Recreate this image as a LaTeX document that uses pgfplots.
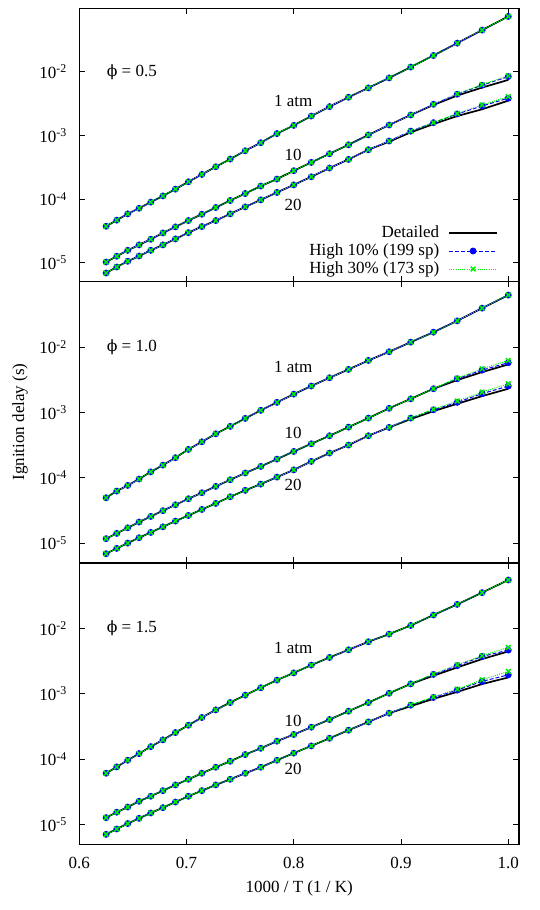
\documentclass[border=0pt]{standalone}
\usepackage{fontspec}
\setmainfont{Liberation Serif}
\newfontfamily\phifont{DejaVu Serif}
\usepackage{pgfplots}
\usepackage{pgfplotstable}
\pgfplotsset{compat=1.18}
\definecolor{hblue}{HTML}{0000FF}
\definecolor{hgreen}{HTML}{00EE00}
\newcommand\fs{\fontsize{8.5}{10}\selectfont}
\newcommand\phisym{{\phifont\fontsize{7.8}{9}\selectfont ϕ}}

% columns: x, 1 atm (all mechanisms), 10 atm (detailed, 10%, 30%), 20 atm (detailed, 10%, 30%)
\pgfplotstableread{
x       p1      d10     b10     g10     d20     b20     g20
0.625   3.73e-5 1.02e-5 1.02e-5 1.02e-5 6.87e-6 6.87e-6 6.87e-6
0.63492 4.65e-5 1.26e-5 1.26e-5 1.26e-5 8.53e-6 8.53e-6 8.53e-6
0.64516 5.85e-5 1.56e-5 1.56e-5 1.56e-5 1.05e-5 1.05e-5 1.05e-5
0.65574 7.16e-5 1.90e-5 1.90e-5 1.90e-5 1.27e-5 1.27e-5 1.27e-5
0.66667 8.93e-5 2.33e-5 2.33e-5 2.33e-5 1.56e-5 1.56e-5 1.56e-5
0.67797 1.12e-4 2.93e-5 2.93e-5 2.93e-5 1.90e-5 1.90e-5 1.90e-5
0.68966 1.43e-4 3.65e-5 3.65e-5 3.65e-5 2.36e-5 2.36e-5 2.36e-5
0.70175 1.87e-4 4.59e-5 4.59e-5 4.59e-5 2.96e-5 2.96e-5 2.96e-5
0.71429 2.44e-4 5.77e-5 5.77e-5 5.77e-5 3.69e-5 3.69e-5 3.69e-5
0.72727 3.22e-4 7.36e-5 7.36e-5 7.36e-5 4.59e-5 4.59e-5 4.59e-5
0.74074 4.25e-4 9.48e-5 9.48e-5 9.48e-5 5.85e-5 5.85e-5 5.85e-5
0.75472 5.75e-4 1.22e-4 1.22e-4 1.22e-4 7.53e-5 7.53e-5 7.53e-5
0.76923 7.69e-4 1.60e-4 1.60e-4 1.60e-4 9.71e-5 9.71e-5 9.71e-5
0.78431 1.07e-3 2.06e-4 2.06e-4 2.06e-4 1.27e-4 1.27e-4 1.27e-4
0.8     1.44e-3 2.79e-4 2.79e-4 2.79e-4 1.67e-4 1.67e-4 1.67e-4
0.81633 2.02e-3 3.77e-4 3.77e-4 3.77e-4 2.24e-4 2.24e-4 2.24e-4
0.83333 2.84e-3 5.16e-4 5.16e-4 5.16e-4 3.07e-4 3.07e-4 3.07e-4
0.85106 3.99e-3 7.14e-4 7.14e-4 7.14e-4 4.20e-4 4.20e-4 4.20e-4
0.86957 5.60e-3 1.02e-3 1.02e-3 1.02e-3 5.97e-4 5.97e-4 5.97e-4
0.88889 8.04e-3 1.46e-3 1.46e-3 1.46e-3 7.98e-4 8.17e-4 8.17e-4
0.90909 1.19e-2 2.10e-3 2.10e-3 2.10e-3 1.12e-3 1.17e-3 1.17e-3
0.93023 1.81e-2 3.02e-3 3.09e-3 3.09e-3 1.51e-3 1.59e-3 1.59e-3
0.95238 2.83e-2 4.24e-3 4.45e-3 4.52e-3 2.02e-3 2.18e-3 2.21e-3
0.97561 4.54e-2 5.66e-3 6.17e-3 6.31e-3 2.58e-3 2.91e-3 3.02e-3
1.0     7.45e-2 7.48e-3 8.43e-3 8.65e-3 3.53e-3 3.85e-3 4.08e-3
}\phiA

\pgfplotstableread{
x       p1      d10     b10     g10     d20     b20     g20
0.625   4.98e-5 1.18e-5 1.18e-5 1.18e-5 6.95e-6 6.95e-6 6.95e-6
0.63492 6.30e-5 1.42e-5 1.42e-5 1.42e-5 8.38e-6 8.38e-6 8.38e-6
0.64516 7.69e-5 1.73e-5 1.73e-5 1.73e-5 1.01e-5 1.01e-5 1.01e-5
0.65574 9.62e-5 2.12e-5 2.12e-5 2.12e-5 1.22e-5 1.22e-5 1.22e-5
0.66667 1.24e-4 2.58e-5 2.58e-5 2.58e-5 1.47e-5 1.47e-5 1.47e-5
0.67797 1.57e-4 3.16e-5 3.16e-5 3.16e-5 1.79e-5 1.79e-5 1.79e-5
0.68966 2.04e-4 3.89e-5 3.89e-5 3.89e-5 2.19e-5 2.19e-5 2.19e-5
0.70175 2.73e-4 4.81e-5 4.81e-5 4.81e-5 2.67e-5 2.67e-5 2.67e-5
0.71429 3.57e-4 5.94e-5 5.94e-5 5.94e-5 3.30e-5 3.30e-5 3.30e-5
0.72727 4.73e-4 7.43e-5 7.43e-5 7.43e-5 4.08e-5 4.08e-5 4.08e-5
0.74074 6.14e-4 9.38e-5 9.38e-5 9.38e-5 5.16e-5 5.16e-5 5.16e-5
0.75472 8.13e-4 1.19e-4 1.19e-4 1.19e-4 6.46e-5 6.46e-5 6.46e-5
0.76923 1.08e-3 1.50e-4 1.50e-4 1.50e-4 8.05e-5 8.05e-5 8.05e-5
0.78431 1.43e-3 1.94e-4 1.94e-4 1.94e-4 1.03e-4 1.03e-4 1.03e-4
0.8     1.91e-3 2.54e-4 2.54e-4 2.54e-4 1.33e-4 1.33e-4 1.33e-4
0.81633 2.54e-3 3.33e-4 3.33e-4 3.33e-4 1.79e-4 1.79e-4 1.79e-4
0.83333 3.40e-3 4.42e-4 4.42e-4 4.42e-4 2.40e-4 2.40e-4 2.40e-4
0.85106 4.56e-3 5.98e-4 5.98e-4 5.98e-4 3.18e-4 3.18e-4 3.18e-4
0.86957 6.25e-3 8.22e-4 8.22e-4 8.22e-4 4.42e-4 4.42e-4 4.42e-4
0.88889 8.49e-3 1.16e-3 1.16e-3 1.16e-3 5.92e-4 5.92e-4 5.92e-4
0.90909 1.19e-2 1.62e-3 1.62e-3 1.62e-3 7.94e-4 8.22e-4 8.22e-4
0.93023 1.69e-2 2.31e-3 2.31e-3 2.31e-3 1.05e-3 1.10e-3 1.12e-3
0.95238 2.52e-2 3.13e-3 3.28e-3 3.35e-3 1.36e-3 1.43e-3 1.50e-3
0.97561 3.94e-2 4.15e-3 4.45e-3 4.67e-3 1.78e-3 1.94e-3 2.05e-3
1.0     6.24e-2 5.43e-3 5.77e-3 6.25e-3 2.31e-3 2.54e-3 2.75e-3
}\phiB

\pgfplotstableread{
x       p1      d10     b10     g10     d20     b20     g20
0.625   6.11e-5 1.28e-5 1.28e-5 1.28e-5 7.11e-6 7.11e-6 7.11e-6
0.63492 7.64e-5 1.55e-5 1.55e-5 1.55e-5 8.59e-6 8.59e-6 8.59e-6
0.64516 9.66e-5 1.86e-5 1.86e-5 1.86e-5 1.04e-5 1.04e-5 1.04e-5
0.65574 1.22e-4 2.28e-5 2.28e-5 2.28e-5 1.25e-5 1.25e-5 1.25e-5
0.66667 1.56e-4 2.72e-5 2.72e-5 2.72e-5 1.51e-5 1.51e-5 1.51e-5
0.67797 1.98e-4 3.31e-5 3.31e-5 3.31e-5 1.82e-5 1.82e-5 1.82e-5
0.68966 2.56e-4 4.05e-5 4.05e-5 4.05e-5 2.22e-5 2.22e-5 2.22e-5
0.70175 3.31e-4 4.94e-5 4.94e-5 4.94e-5 2.72e-5 2.72e-5 2.72e-5
0.71429 4.35e-4 6.11e-5 6.11e-5 6.11e-5 3.31e-5 3.31e-5 3.31e-5
0.72727 5.69e-4 7.55e-5 7.55e-5 7.55e-5 4.05e-5 4.05e-5 4.05e-5
0.74074 7.36e-4 9.31e-5 9.31e-5 9.31e-5 4.94e-5 4.94e-5 4.94e-5
0.75472 9.55e-4 1.18e-4 1.18e-4 1.18e-4 6.11e-5 6.11e-5 6.11e-5
0.76923 1.24e-3 1.47e-4 1.47e-4 1.47e-4 7.55e-5 7.55e-5 7.55e-5
0.78431 1.62e-3 1.89e-4 1.89e-4 1.89e-4 9.66e-5 9.66e-5 9.66e-5
0.8     2.09e-3 2.39e-4 2.39e-4 2.39e-4 1.24e-4 1.24e-4 1.24e-4
0.81633 2.75e-3 3.09e-4 3.09e-4 3.09e-4 1.60e-4 1.60e-4 1.60e-4
0.83333 3.60e-3 4.05e-4 4.05e-4 4.05e-4 2.09e-4 2.09e-4 2.09e-4
0.85106 4.71e-3 5.43e-4 5.43e-4 5.43e-4 2.78e-4 2.78e-4 2.78e-4
0.86957 6.25e-3 7.36e-4 7.36e-4 7.36e-4 3.72e-4 3.72e-4 3.72e-4
0.88889 8.18e-3 1.02e-3 1.02e-3 1.02e-3 5.06e-4 5.06e-4 5.06e-4
0.90909 1.11e-2 1.42e-3 1.42e-3 1.42e-3 6.47e-4 6.71e-4 6.80e-4
0.93023 1.60e-2 1.89e-3 1.98e-3 2.00e-3 8.38e-4 8.79e-4 8.95e-4
0.95238 2.33e-2 2.53e-3 2.69e-3 2.78e-3 1.07e-3 1.14e-3 1.18e-3
0.97561 3.52e-2 3.40e-3 3.72e-3 3.82e-3 1.41e-3 1.55e-3 1.64e-3
1.0     5.50e-2 4.45e-3 4.66e-3 5.12e-3 1.78e-3 1.95e-3 2.20e-3
}\phiC

\pgfplotsset{
  legend image code/.code={\draw[mark repeat=2,mark phase=2,#1] plot coordinates {(0pt,0pt) (12pt,0pt) (24pt,0pt)};},
  scale only axis,
  width=219.85pt,
  xmin=0.6, xmax=1.01,
  ymin=5.01e-6, ymax=0.1,
  axis line style={line width=0.6pt},
  tick style={line width=0.5pt, black},
  tick align=inside,
  major tick length=2.8pt,
  xtick={0.6,0.7,0.8,0.9,1.0},
  ytick={1e-5,1e-4,1e-3,1e-2},
  yticklabels={10\textsuperscript{-5},10\textsuperscript{-4},10\textsuperscript{-3},10\textsuperscript{-2}},
  yminorticks=false, xminorticks=false,
  yticklabel shift=2.5pt,
  xticklabel shift=3.1pt,
  tick label style={font=\fs},
}
\tikzset{
  det/.style={black, line width=0.85pt, mark=none},
  hten/.style={hblue, line width=0.5pt, dash pattern=on 2pt off 1pt, mark=*, mark size=1.45pt, mark options={solid, fill=hblue}},
  hthirty/.style={hgreen, line width=0.5pt, dash pattern=on 0.5pt off 0.6pt, mark=x, mark size=1.65pt, mark options={solid, line width=0.75pt}},
}

\newcommand\highp[1]{%
  \addplot[det, forget plot] table[x=x, y=d10] {#1};
  \addplot[hten, forget plot] table[x=x, y=b10] {#1};
  \addplot[hthirty, forget plot] table[x=x, y=g10] {#1};
  \addplot[det, forget plot] table[x=x, y=d20] {#1};
  \addplot[hten, forget plot] table[x=x, y=b20] {#1};
  \addplot[hthirty, forget plot] table[x=x, y=g20] {#1};
}

\begin{document}
\begin{tikzpicture}[font=\fs]
\useasboundingbox (0,0) rectangle (270pt,455pt);

% phi = 0.5
\begin{axis}[ymode=log, anchor=south west, at={(39.65pt,314.15pt)}, height=136.7pt,
  xticklabels={,,,,},
  legend style={at={(0.953,0.012)}, anchor=south east, draw=none, fill=none,
    inner sep=0pt, row sep=0pt, column sep=4pt,
    nodes={inner sep=0.5pt, text height=6pt, text depth=2pt, font=\fs}},
  legend cell align=right, legend plot pos=right,
]
\addplot[det] table[x=x, y=p1] {\phiA};
\addlegendentry{Detailed}
\addplot[hten] table[x=x, y=p1] {\phiA};
\addlegendentry{High 10\% (199 sp)}
\addplot[hthirty] table[x=x, y=p1] {\phiA};
\addlegendentry{High 30\% (173 sp)}
\highp{\phiA}
\node at (axis cs:0.649,1e-2) {\phisym\ = 0.5};
\node at (axis cs:0.7995,3.49e-3) {1 atm};
\node at (axis cs:0.7995,4.90e-4) {10};
\node at (axis cs:0.7995,8.0e-5) {20};
\end{axis}

% phi = 1.0
\begin{axis}[ymode=log, anchor=south west, at={(39.65pt,173.5pt)}, height=140.65pt,
  xticklabels={,,,,}]
\addplot[det, forget plot] table[x=x, y=p1] {\phiB};
\addplot[hten, forget plot] table[x=x, y=p1] {\phiB};
\addplot[hthirty, forget plot] table[x=x, y=p1] {\phiB};
\highp{\phiB}
\node at (axis cs:0.649,1e-2) {\phisym\ = 1.0};
\node at (axis cs:0.7995,4.94e-3) {1 atm};
\node at (axis cs:0.7995,4.91e-4) {10};
\node at (axis cs:0.7995,7.96e-5) {20};
\end{axis}

% phi = 1.5
\begin{axis}[ymode=log, anchor=south west, at={(39.65pt,32.85pt)}, height=140.65pt,
  xticklabels={0.6,0.7,0.8,0.9,1.0}]
\addplot[det, forget plot] table[x=x, y=p1] {\phiC};
\addplot[hten, forget plot] table[x=x, y=p1] {\phiC};
\addplot[hthirty, forget plot] table[x=x, y=p1] {\phiC};
\highp{\phiC}
\node at (axis cs:0.649,1e-2) {\phisym\ = 1.5};
\node at (axis cs:0.7995,5.01e-3) {1 atm};
\node at (axis cs:0.7995,3.89e-4) {10};
\node at (axis cs:0.7995,7.03e-5) {20};
\end{axis}

\node[rotate=90] at (10pt,244pt) {Ignition delay (s)};
\node at (149.6pt,11pt) {1000 / T (1 / K)};
\end{tikzpicture}
\end{document}
